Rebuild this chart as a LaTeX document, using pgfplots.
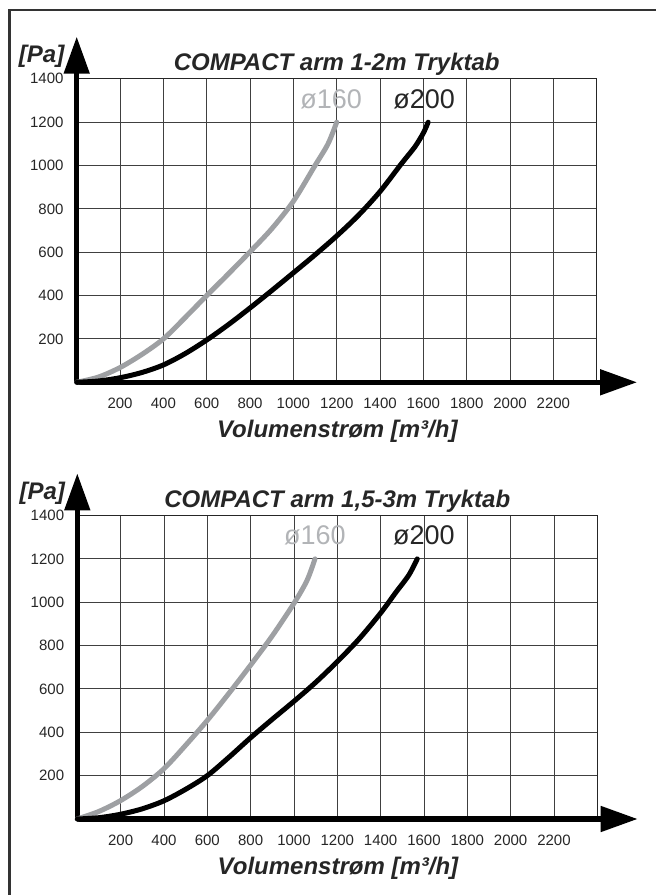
\documentclass[border=0pt]{standalone}
\usepackage{fontspec}
\setmainfont{Liberation Sans}
\usepackage{pgfplots}
\pgfplotsset{compat=1.18}
\usetikzlibrary{arrows.meta}
\definecolor{c160}{RGB}{158,160,163}
\definecolor{t160}{RGB}{178,180,183}
\pgfplotsset{compactstyle/.style={
  scale only axis, width=520bp, height=303.5bp,
  xmin=0,xmax=2400,ymin=0,ymax=1400,
  xtick={0,200,...,2400}, ytick={0,200,...,1400},
  xticklabels={,200,400,600,800,1000,1200,1400,1600,1800,2000,2200,},
  yticklabels={,200,400,600,800,1000,1200,1400},
  major tick length=0pt,
  grid=major, grid style={black!75, line width=0.9bp},
  axis line style={black!85, line width=1.3bp},
  clip=false,
  /pgf/number format/assume math mode=true,
  ticklabel style={font=\fontsize{15bp}{17bp}\selectfont, inner sep=0pt, text=black!85},
  xticklabel style={anchor=base, yshift=-26.5bp},
  yticklabel style={anchor=east, xshift=-13bp},
  anchor=south west,
}}
\tikzset{
  ttl/.style={anchor=base, font=\fontsize{24bp}{28bp}\selectfont\bfseries\itshape, text=black!85},
  dia/.style={anchor=base, font=\fontsize{27bp}{30bp}\selectfont},
  axarrow/.style={line width=5bp, -{Triangle[length=37bp,width=25bp]}},
}
\begin{document}
\begin{tikzpicture}
\useasboundingbox (0bp,0bp) rectangle (656bp,895bp);
\draw[line width=2.5bp, black!80] (9.5bp,0bp) -- (9.5bp,885bp) -- (656bp,885bp);

% ---------- top chart ----------
\begin{axis}[compactstyle, at={(76.7bp,512.7bp)}]
\draw[axarrow] (axis cs:0,0) -- (axis cs:0,1594);
\draw[axarrow] (axis cs:0,0) -- (axis cs:2586,0);
\addplot[line width=5bp, line cap=round, smooth, color=c160] coordinates {(0,0) (100,24) (200,68) (300,128) (400,200) (500,298) (600,400) (700,500) (800,602) (900,708) (1000,835) (1100,1000) (1160,1100) (1200,1200)};
\addplot[line width=5bp, line cap=round, smooth, color=black] coordinates {(0,0) (100,6) (200,21) (300,45) (400,80) (500,132) (600,195) (700,266) (800,343) (900,423) (1000,505) (1100,588) (1200,675) (1300,770) (1400,880) (1500,1010) (1560,1085) (1600,1150) (1622,1200)};
\node[ttl] at (axis cs:1200,1439) {COMPACT arm 1-2m Tryktab};
\node[ttl] at (axis cs:-162,1474) {[Pa]};
\node[ttl] at (axis cs:1203,-256) {Volumenstrøm [m³/h]};
\node[dia, text=t160] at (axis cs:1174,1261) {ø160};
\node[dia, text=black!85] at (axis cs:1604,1261) {ø200};
\end{axis}

% ---------- bottom chart ----------
\begin{axis}[compactstyle, at={(77.3bp,76bp)}]
\draw[axarrow] (axis cs:0,0) -- (axis cs:0,1594);
\draw[axarrow] (axis cs:0,0) -- (axis cs:2586,0);
\addplot[line width=5bp, line cap=round, smooth, color=c160] coordinates {(0,0) (100,35) (200,85) (300,150) (400,232) (500,340) (600,455) (700,580) (800,710) (900,845) (1000,995) (1060,1100) (1097,1200)};
\addplot[line width=5bp, line cap=round, smooth, color=black] coordinates {(0,0) (100,6) (200,22) (300,47) (400,84) (500,137) (600,200) (700,285) (800,375) (900,460) (1000,543) (1100,630) (1200,726) (1300,830) (1400,950) (1470,1045) (1530,1125) (1569,1200)};
\node[ttl] at (axis cs:1200,1439) {COMPACT arm 1,5-3m Tryktab};
\node[ttl] at (axis cs:-162,1474) {[Pa]};
\node[ttl] at (axis cs:1203,-256) {Volumenstrøm [m³/h]};
\node[dia, text=t160] at (axis cs:1097,1265) {ø160};
\node[dia, text=black!85] at (axis cs:1600,1265) {ø200};
\end{axis}
\end{tikzpicture}
\end{document}
